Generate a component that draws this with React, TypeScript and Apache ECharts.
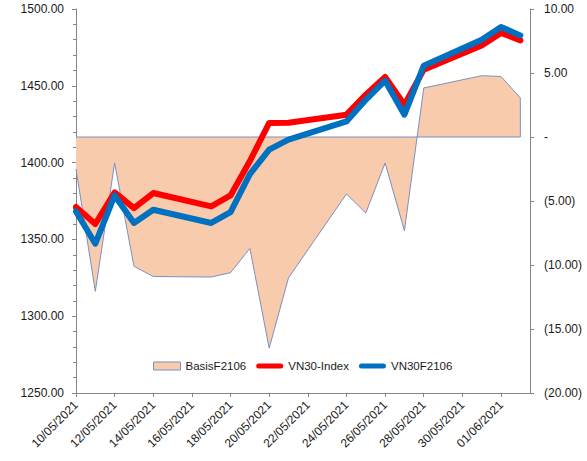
import React, { useEffect, useRef } from 'react';
import * as echarts from 'echarts';

// ---- data ----
const dates = [
  '10/05/2021', '11/05/2021', '12/05/2021', '13/05/2021', '14/05/2021',
  '17/05/2021', '18/05/2021', '19/05/2021', '20/05/2021', '21/05/2021',
  '24/05/2021', '25/05/2021', '26/05/2021', '27/05/2021', '28/05/2021',
  '31/05/2021', '01/06/2021', '02/06/2021',
];
const vn30Index = [
  1371.1, 1360.0, 1380.6, 1370.4, 1380.2,
  1371.5, 1378.6, 1401.0, 1425.8, 1426.0,
  1431.2, 1444.2, 1455.7, 1437.7, 1460.5,
  1476.3, 1484.4, 1479.6,
];
const vn30F2106 = [
  1368.2, 1347.2, 1378.6, 1360.7, 1369.3,
  1360.7, 1367.8, 1392.5, 1408.4, 1415.0,
  1426.8, 1440.9, 1453.3, 1431.2, 1463.1,
  1480.0, 1488.3, 1482.8,
];
const basisF2106 = [
  -2.5, -12.06, -2.03, -10.1, -10.9,
  -10.94, -10.6, -8.7, -16.5, -11.0,
  -4.45, -5.94, -2.03, -7.32, 3.83,
  4.79, 4.73, 3.05,
];
const xTickLabels = [
  '10/05/2021', '12/05/2021', '14/05/2021', '16/05/2021', '18/05/2021', '20/05/2021',
  '22/05/2021', '24/05/2021', '26/05/2021', '28/05/2021', '30/05/2021', '01/06/2021',
];
const xAxisEndDays = 23.5;
const leftAxis = { min: 1250, max: 1500, interval: 50 };
const rightAxis = { min: -20, max: 10, interval: 5 };
const seriesNames = ['BasisF2106', 'VN30-Index', 'VN30F2106'];

// ---- helpers ----
const DAY = 86400000;
const parseDate = (s: string) => {
  const [d, m, y] = s.split('/').map(Number);
  return Date.UTC(y, m - 1, d);
};
const t0 = parseDate(dates[0]);
const toDay = (s: string) => (parseDate(s) - t0) / DAY;
const fmtDay = (v: number) => {
  const dt = new Date(t0 + Math.round(v) * DAY);
  const dd = String(dt.getUTCDate()).padStart(2, '0');
  const mm = String(dt.getUTCMonth() + 1).padStart(2, '0');
  return `${dd}/${mm}/${dt.getUTCFullYear()}`;
};
const fmtAccounting = (v: number) => {
  if (Math.abs(v) < 1e-9) return '-';
  if (v < 0) return `(${Math.abs(v).toFixed(2)})`;
  return v.toFixed(2);
};

const FONT = '"Liberation Sans", Arial, sans-serif';
const TEXT = '#1a1a1a';
const AXIS = '#868686';
const FILL = '#F8CBAD';
const BORDER = '#7B8FC0';
const RED = '#FF0000';
const BLUE = '#0070C0';

const linePath = 'path://M0,0M27,8M2.5,1.5H24.5A2.5,2.5,0,0,1,24.5,6.5H2.5A2.5,2.5,0,0,1,2.5,1.5Z';

export default function App() {
  const ref = useRef<HTMLDivElement>(null);
  useEffect(() => {
    if (!ref.current) return;
    const chart = echarts.init(ref.current, undefined, { renderer: 'svg' });
    const xs = dates.map(toDay);
    const tickDays = xTickLabels.map(toDay);
    const lastX = xs[xs.length - 1];
    chart.setOption({
      animation: false,
      backgroundColor: '#ffffff',
      textStyle: { fontFamily: FONT },
      grid: { left: 76, right: 57, top: 9, bottom: 68, outerBoundsMode: 'none' },
      legend: {
        left: 153,
        top: 360,
        padding: 0,
        itemGap: 10,
        itemWidth: 27,
        itemHeight: 8,
        textStyle: { fontSize: 11.5, color: TEXT, fontFamily: FONT },
        data: [
          { name: seriesNames[0], icon: 'rect', itemStyle: { color: FILL, borderColor: BORDER, borderWidth: 1 } },
          { name: seriesNames[1], icon: linePath, itemStyle: { color: RED, borderWidth: 0 } },
          { name: seriesNames[2], icon: linePath, itemStyle: { color: BLUE, borderWidth: 0 } },
        ],
      },
      xAxis: {
        type: 'value',
        min: 0,
        max: xAxisEndDays,
        interval: 2,
        axisLine: { show: true, onZero: false, lineStyle: { color: AXIS, width: 1 } },
        axisTick: { show: true, length: 4, customValues: tickDays, lineStyle: { color: AXIS } },
        axisLabel: {
          customValues: tickDays,
          rotate: 45,
          margin: 10,
          fontSize: 12,
          color: TEXT,
          fontFamily: FONT,
          formatter: (v: number) => fmtDay(v),
        },
        splitLine: { show: false },
      },
      yAxis: [
        {
          type: 'value',
          position: 'left',
          min: leftAxis.min,
          max: leftAxis.max,
          interval: leftAxis.interval,
          axisLine: { show: true, lineStyle: { color: AXIS, width: 1 } },
          axisTick: { show: true, length: 4, lineStyle: { color: AXIS } },
          minorTick: { show: true, splitNumber: 5, length: 3, lineStyle: { color: AXIS } },
          axisLabel: { margin: 12, fontSize: 12, color: TEXT, fontFamily: FONT, formatter: (v: number) => v.toFixed(2) },
          splitLine: { show: false },
          minorSplitLine: { show: false },
        },
        {
          type: 'value',
          position: 'right',
          min: rightAxis.min,
          max: rightAxis.max,
          interval: rightAxis.interval,
          axisLine: { show: true, lineStyle: { color: AXIS, width: 1 } },
          axisTick: { show: true, length: 4, lineStyle: { color: AXIS } },
          axisLabel: { margin: 14, fontSize: 12, color: TEXT, fontFamily: FONT, formatter: fmtAccounting },
          splitLine: { show: false },
        },
      ],
      series: [
        {
          name: seriesNames[0],
          type: 'line',
          yAxisIndex: 1,
          symbol: 'none',
          data: xs.map((x, i) => [x, basisF2106[i]]),
          lineStyle: { color: BORDER, width: 1 },
          itemStyle: { color: FILL },
          areaStyle: { color: FILL, opacity: 1, origin: 0 },
        },
        {
          name: 'basis-outline',
          type: 'line',
          yAxisIndex: 1,
          symbol: 'none',
          silent: true,
          data: [[xs[0], 0], [lastX, 0], [lastX, basisF2106[basisF2106.length - 1]]],
          lineStyle: { color: BORDER, width: 1 },
          itemStyle: { color: BORDER },
        },
        {
          name: seriesNames[1],
          type: 'line',
          yAxisIndex: 0,
          symbol: 'none',
          data: xs.map((x, i) => [x, vn30Index[i]]),
          lineStyle: { color: RED, width: 6, join: 'round', cap: 'round' },
          itemStyle: { color: RED },
        },
        {
          name: seriesNames[2],
          type: 'line',
          yAxisIndex: 0,
          symbol: 'none',
          data: xs.map((x, i) => [x, vn30F2106[i]]),
          lineStyle: { color: BLUE, width: 6, join: 'round', cap: 'round' },
          itemStyle: { color: BLUE },
        },
      ],
    });
    return () => chart.dispose();
  }, []);
  return (
    <div
      ref={ref}
      style={{ position: 'fixed', left: 0, top: 0, width: 587, height: 461, background: '#fff' }}
    />
  );
}
